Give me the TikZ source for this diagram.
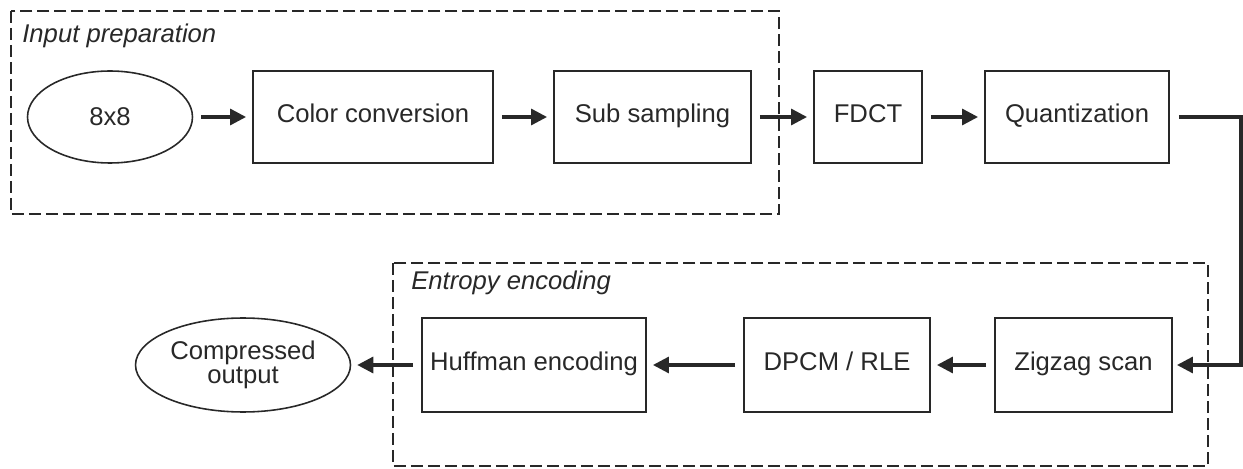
\documentclass[tikz,border=0pt]{standalone}
\usepackage{fontspec}
\setmainfont{Liberation Sans}
\usepackage{tikz}
\usetikzlibrary{arrows.meta,shapes.geometric}
\definecolor{ink}{RGB}{40,40,40}

\begin{document}
\begin{tikzpicture}[x=0.02cm, y=-0.02cm,
  font=\fontsize{14.6}{17}\selectfont, text=ink,
  blockbox/.style={draw=ink, line width=1.1pt, rectangle, inner sep=0pt, minimum height=1.84cm, text height=1.55ex, text depth=0.45ex},
  endnode/.style={draw=ink, line width=0.9pt, ellipse, inner sep=0pt, align=center},
  flow/.style={draw=ink, line width=1.8pt, -{Triangle[length=0.32cm, width=0.32cm]}, shorten <=0.16cm, shorten >=0.12cm},
  frame/.style={draw=ink, line width=1.1pt, dash pattern=on 0.24cm off 0.1cm}]
\useasboundingbox (0,0) rectangle (1243,469);
\def\topframe{(11,11) rectangle (779,214)}
\def\lowframe{(393,263) rectangle (1208,466)}

\draw[frame] \topframe;
\draw[frame] \lowframe;
\node[anchor=base west, inner sep=0pt, font=\fontsize{14.6}{17}\selectfont\itshape] (inlabel) at (22,43) {Input preparation};
\node[anchor=base west, inner sep=0pt, font=\fontsize{14.6}{17}\selectfont\itshape] (entlabel) at (411,290) {Entropy encoding};

% upper row
\node[endnode, minimum width=3.3cm, minimum height=1.84cm] (block) at (110,117) {8x8};
\node[blockbox, minimum width=4.8cm] (colconv) at (373,117) {Color conversion};
\node[blockbox, minimum width=3.94cm] (subsamp) at (652.5,117) {Sub sampling};
\node[blockbox, minimum width=2.16cm] (fdct) at (868,117) {FDCT};
\node[blockbox, minimum width=3.68cm] (quant) at (1077,117) {Quantization};

% lower row
\node[blockbox, minimum width=3.54cm, minimum height=1.88cm] (zigzag) at (1083.5,365) {Zigzag scan};
\node[blockbox, minimum width=3.72cm, minimum height=1.88cm] (dpcm) at (837,365) {DPCM / RLE};
\node[blockbox, minimum width=4.48cm, minimum height=1.88cm] (huff) at (534,365) {Huffman encoding};
\node[endnode, minimum width=4.3cm, minimum height=1.88cm] (output) at (243,365) {Compressed\\[-3pt]output};

\coordinate (turn) at (1241,117);

\draw[flow] (block) -- (colconv);
\draw[flow] (colconv) -- (subsamp);
\draw[flow] (subsamp) -- (fdct);
\draw[flow] (fdct) -- (quant);
\draw[flow, shorten <=0.18cm, shorten >=0.08cm] (quant.east) -- (turn) |- (zigzag.east);
\draw[flow] (zigzag) -- (dpcm);
\draw[flow] (dpcm) -- (huff);
\draw[flow] (huff) -- (output);
\end{tikzpicture}
\end{document}
